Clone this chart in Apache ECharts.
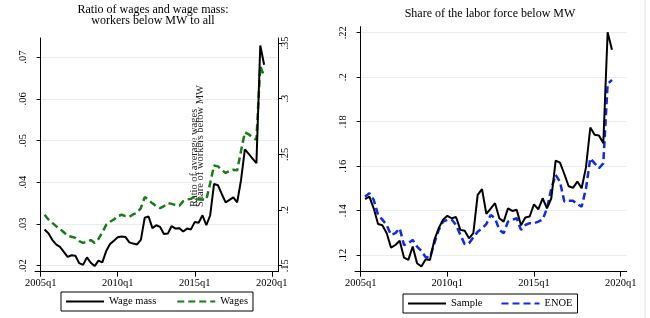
<!DOCTYPE html>
<html>
<head>
    <meta charset="utf-8">
    <title>ECharts</title>
    <script src="https://cdn.jsdelivr.net/npm/echarts/dist/echarts.min.js"></script>
</head>
<body style="margin:0;background:#fff">
    <div id="main" style="width: 650px;height:318px;"></div>
    <script>
        // quarters counted from 2005q1 = 0; series run 2005q2 .. 2019q3
        var startQ = 1;
        var xTicks = [0, 20, 40, 60];
        var xTickLabels = ['2005q1', '2010q1', '2015q1', '2020q1'];

        var wageMass = [
            .0287, .0278, .0262, .0251, .0245, .0233, .0221, .0225, .0224, .0206,
            .0202, .0220, .0207, .0199, .0212, .0208, .0235, .0252, .0260, .0268,
            .0270, .0269, .0256, .0253, .0251, .0262, .0315, .0318, .0290, .0297,
            .0293, .0276, .0277, .0295, .0289, .0290, .0282, .0289, .0287, .0305,
            .0303, .0321, .0297, .0321, .0396, .0393, .0372, .0352, .0358, .0364,
            .0352, .0405, .0479, .0468, .0457, .0446, .0728, .0682
        ];
        var wages = [
            .1957, .1915, .1885, .1855, .1830, .1800, .1768, .1760, .1750, .1720,
            .1705, .1715, .1730, .1705, .1740, .1800, .1867, .1895, .1915, .1945,
            .1957, .1945, .1940, .1960, .1975, .2017, .2116, .2090, .2060, .2035,
            .2017, .2035, .2062, .2055, .2045, .2038, .2080, .2095, .2100, .2122,
            .2100, .2095, .2092, .2242, .2400, .2392, .2360, .2333, .2350, .2362,
            .2356, .2530, .2698, .2680, .2650, .2632, .3293, .3203
        ];
        var sample = [
            .1452, .1463, .1411, .1340, .1335, .1299, .1234, .1246, .1265, .1189,
            .1179, .1239, .1164, .1149, .1182, .1179, .1269, .1321, .1360, .1377,
            .1366, .1372, .1314, .1310, .1276, .1299, .1471, .1497, .1386, .1409,
            .1434, .1366, .1351, .1411, .1399, .1404, .1335, .1370, .1374, .1429,
            .1406, .1456, .1411, .1456, .1625, .1616, .1565, .1510, .1503, .1531,
            .1501, .1595, .1774, .1741, .1738, .1703, .2202, .2123
        ];
        var enoe = [
            .1463, .1479, .1449, .1381, .1360, .1335, .1291, .1299, .1321, .1245,
            .1254, .1269, .1239, .1220, .1191, .1191, .1254, .1314, .1351, .1359,
            .1361, .1336, .1291, .1250, .1254, .1280, .1306, .1320, .1340, .1381,
            .1366, .1314, .1299, .1351, .1359, .1366, .1314, .1336, .1344, .1344,
            .1351, .1360, .1411, .1500, .1561, .1530, .1441, .1445, .1445, .1430,
            .1418, .1500, .1636, .1613, .1591, .1613, .1970, .1988
        ];

        var leftTicks = [.02, .03, .04, .05, .06, .07];
        var rightTicks = [.15, .2, .25, .3, .35];
        var shareTicks = [.12, .14, .16, .18, .2, .22];

        function pairs(arr) {
            return arr.map(function (v, i) { return [startQ + i, v]; });
        }
        function noZero(v) {
            return String(+v.toFixed(2)).replace(/^0/, '');
        }

        var font = 'Liberation Serif';
        var gridColor = '#e6eef0';

        function xAxis(gridIndex, min, max) {
            return {
                type: 'value', gridIndex: gridIndex, min: min, max: max,
                axisLine: { lineStyle: { color: '#000', width: 1 } },
                axisTick: { customValues: xTicks, length: 5, lineStyle: { color: '#000' } },
                axisLabel: {
                    customValues: xTicks, margin: 6, color: '#000',
                    fontFamily: font, fontSize: 10.5,
                    formatter: function (v) { return xTickLabels[xTicks.indexOf(v)]; }
                },
                splitLine: { show: false }
            };
        }
        function yAxis(gridIndex, min, max, ticks, pos, grid, margin) {
            return {
                type: 'value', gridIndex: gridIndex, min: min, max: max, position: pos,
                axisLine: { show: true, lineStyle: { color: '#000', width: 1 } },
                axisTick: { show: true, customValues: ticks, length: 4, lineStyle: { color: '#000' } },
                axisLabel: {
                    customValues: ticks, rotate: 90, margin: margin, color: '#000',
                    fontFamily: font, fontSize: 10.5, formatter: noZero
                },
                splitLine: { show: grid, lineStyle: { color: gridColor, width: 1 } }
            };
        }

        function legend(names, left, top, gap) {
            return {
                data: names, left: left, top: top,
                borderColor: '#000', borderWidth: 1, borderRadius: 0,
                padding: [4, 5, 4, 4], itemGap: gap, itemWidth: 38, itemHeight: 12,
                itemStyle: { opacity: 0 },
                textStyle: { fontFamily: font, fontSize: 10.5, color: '#000' }
            };
        }

        var chart = echarts.init(document.getElementById('main'));
        var option = {
            backgroundColor: '#fff',
            animation: false,
            grid: [
                { left: 35, right: 372, top: 38, bottom: 46.3 },
                { left: 355, right: 23.3, top: 26.7, bottom: 46.3 }
            ],
            xAxis: [xAxis(0, -1.48, 61.6), xAxis(1, -1.32, 61.4)],
            yAxis: [
                yAxis(0, .01856, .0746, leftTicks, 'left', true, 6),
                yAxis(0, .1446, .3545, rightTicks, 'right', false, 2),
                yAxis(1, .1126, .2227, shareTicks, 'left', true, 6)
            ],
            legend: [
                legend(['Wage mass', 'Wages'], 61, 292, 20),
                legend(['Sample', 'ENOE'], 403, 294, 18)
            ],
            graphic: [
                { type: 'text', x: 153, y: 10, style: { text: 'Ratio of wages and wage mass:', align: 'center', verticalAlign: 'middle', font: '12px "Liberation Serif"', fill: '#000' } },
                { type: 'text', x: 153, y: 21, style: { text: 'workers below MW to all', align: 'center', verticalAlign: 'middle', font: '12px "Liberation Serif"', fill: '#000' } },
                { type: 'text', x: 490, y: 14, style: { text: 'Share of the labor force below MW', align: 'center', verticalAlign: 'middle', font: '12px "Liberation Serif"', fill: '#000' } },
                { type: 'text', x: 194.5, y: 207, rotation: Math.PI / 2, style: { text: 'Ratio of average wages', align: 'left', verticalAlign: 'middle', font: '10.5px "Liberation Serif"', fill: '#222' } },
                { type: 'text', x: 200.5, y: 207, rotation: Math.PI / 2, style: { text: 'Share of workers below MW', align: 'left', verticalAlign: 'middle', font: '10.5px "Liberation Serif"', fill: '#222' } },
                { type: 'line', shape: { x1: 645, y1: 0, x2: 645, y2: 318 }, style: { stroke: '#e2e2e2', lineWidth: 1 } }
            ],
            series: [
                {
                    name: 'Wage mass', type: 'line', xAxisIndex: 0, yAxisIndex: 0,
                    data: pairs(wageMass), symbol: 'none', z: 3,
                    lineStyle: { color: '#000', width: 2 }, itemStyle: { color: '#000' }
                },
                {
                    name: 'Wages', type: 'line', xAxisIndex: 0, yAxisIndex: 1,
                    data: pairs(wages), symbol: 'none', z: 2,
                    lineStyle: { color: '#1b7a1b', width: 2.5, type: [7, 4] }, itemStyle: { color: '#1b7a1b' }
                },
                {
                    name: 'Sample', type: 'line', xAxisIndex: 1, yAxisIndex: 2,
                    data: pairs(sample), symbol: 'none', z: 3,
                    lineStyle: { color: '#000', width: 2 }, itemStyle: { color: '#000' }
                },
                {
                    name: 'ENOE', type: 'line', xAxisIndex: 1, yAxisIndex: 2,
                    data: pairs(enoe), symbol: 'none', z: 2,
                    lineStyle: { color: '#1028f0', width: 2.5, type: [7, 4] }, itemStyle: { color: '#1028f0' }
                }
            ]
        };
        chart.setOption(option);
    </script>
</body>
</html>
